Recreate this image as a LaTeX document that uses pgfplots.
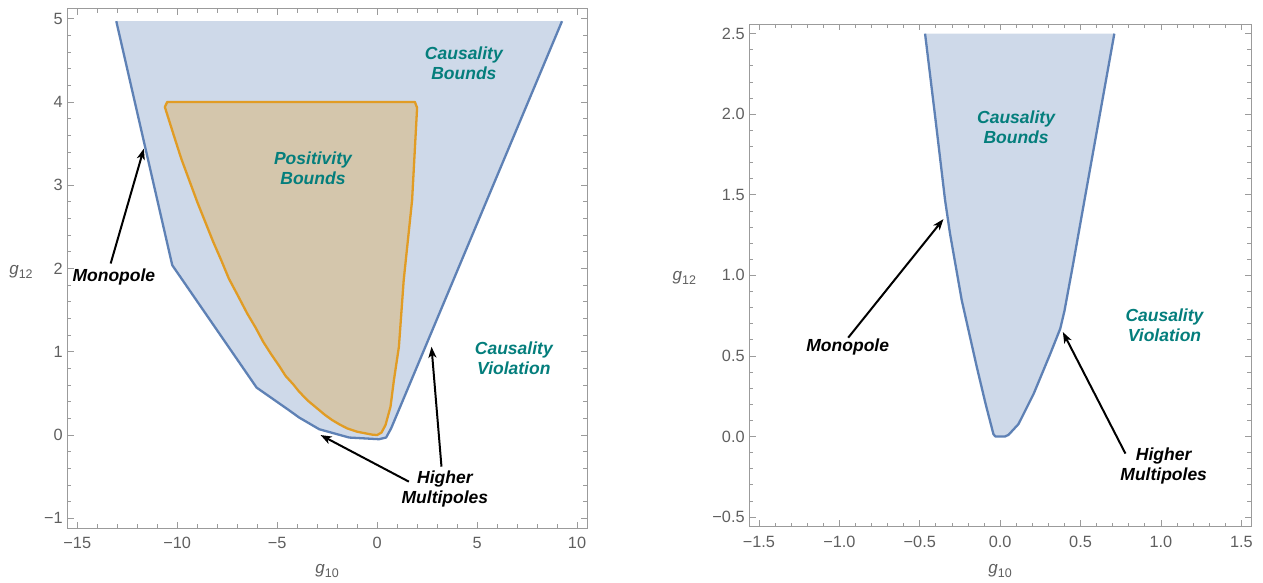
\documentclass[border=0pt]{standalone}
\usepackage{fontspec}
\setmainfont{Liberation Sans}
\usepackage{pgfplots}
\usepackage{pgfplotstable}
\pgfplotsset{compat=1.18}
\usetikzlibrary{arrows.meta}

\definecolor{mblue}{RGB}{94,129,181}
\definecolor{mbluefill}{RGB}{206,217,233}
\definecolor{morange}{RGB}{225,156,36}
\definecolor{morangefill}{RGB}{212,198,172}
\definecolor{mteal}{RGB}{4,126,124}
\definecolor{framegray}{RGB}{155,155,155}
\definecolor{ticklab}{RGB}{95,95,95}

\newcommand{\ticklabelfont}{\fontsize{16.3}{16.3}\selectfont}
\newcommand{\notefont}{\fontsize{17.5}{20}\selectfont\bfseries\itshape}
\newcommand{\axlabel}[1]{{\fontsize{17}{17}\selectfont\color{ticklab}\itshape g\/\raisebox{-4pt}{\upshape\fontsize{12.5}{12.5}\selectfont #1}}}

% causality region, left panel (open boundary: the top edge is the plot range)
\pgfplotstableread{
x y
-13.05 4.97
-10.25 2.04
-6.03 0.57
-4.42 0.30
-3.90 0.21
-2.90 0.07
-1.40 -0.03
0.09 -0.05
0.45 -0.03
0.70 0.08
9.25 4.97
}\causalL

% positivity region, left panel (closed boundary)
\pgfplotstableread{
x y
-10.50 4.00
1.89 4.00
2.00 3.93
1.75 2.82
1.33 1.86
1.09 1.06
0.84 0.66
0.67 0.34
0.42 0.12
0.22 0.03
0.00 0.00
-0.25 0.005
-0.58 0.02
-1.00 0.04
-1.50 0.08
-1.90 0.13
-2.25 0.18
-2.60 0.24
-3.00 0.32
-3.45 0.41
-3.90 0.52
-4.20 0.61
-4.58 0.71
-4.90 0.83
-5.30 0.97
-5.70 1.12
-6.08 1.29
-6.50 1.46
-7.00 1.69
-7.42 1.88
-7.80 2.10
-8.20 2.32
-8.60 2.56
-9.00 2.80
-9.40 3.06
-9.80 3.32
-10.20 3.62
-10.62 3.94
}\posL

% causality region, right panel
\pgfplotstableread{
x y
-0.467 2.50
-0.400 1.95
-0.343 1.47
-0.312 1.26
-0.239 0.846
-0.145 0.43
-0.090 0.20
-0.042 0.015
-0.030 0.00
0.030 0.00
0.052 0.01
0.114 0.077
0.208 0.264
0.312 0.514
0.374 0.67
0.400 0.78
0.450 1.05
0.525 1.47
0.710 2.50
}\causalR

\pgfplotsset{
  mframe/.style={
    scale only axis, clip=false,
    axis line style={draw=framegray, line width=0.9pt},
    tick align=inside,
    tick style={draw=framegray, line width=0.8pt},
    major tick length=6.5pt, minor tick length=4pt,
    minor x tick num=4, minor y tick num=4,
    xticklabel style={font=\ticklabelfont, text=ticklab, anchor=center, inner sep=0pt, yshift=-15pt},
    yticklabel style={font=\ticklabelfont, text=ticklab, anchor=east, inner sep=0pt, xshift=-4.5pt},
  },
}
\tikzset{
  note/.style={font=\notefont, align=center, inner sep=0pt},
  arr/.style={-{Stealth[length=11pt,width=8pt,inset=3pt]}, line width=2pt, black},
}

\begin{document}
\begin{tikzpicture}
\path[use as bounding box] (0pt,0pt) rectangle (1263pt,582pt);

% left panel
\begin{axis}[mframe,
  at={(67.3pt,53.7pt)}, anchor=south west,
  width=519.7pt, height=519.6pt,
  xmin=-15.5, xmax=10.5, ymin=-1.12, ymax=5.12,
  xtick={-15,-10,-5,0,5,10},
  xticklabels={−15,−10,−5,0,5,10},
  ytick={-1,0,1,2,3,4,5},
  yticklabels={−1,0,1,2,3,4,5},
]
\addplot[fill=mbluefill, draw=none] table {\causalL} -- cycle;
\addplot[mblue, line width=2.3pt, line join=round] table {\causalL};
\addplot[fill=morangefill, draw=morange, line width=2.3pt, line join=round] table {\posL} -- cycle;

\node[note, text=mteal] at (axis cs:4.34,4.46) {Causality\\Bounds};
\node[note, text=mteal] at (axis cs:-3.21,3.20) {Positivity\\Bounds};
\node[note, text=mteal] at (axis cs:6.84,0.92) {Causality\\Violation};
\node[note] at (axis cs:-13.17,1.90) {Monopole};
\node[note] at (axis cs:3.39,-0.65) {Higher\\Multipoles};

\draw[arr] (axis cs:-13.33,2.06) -- (axis cs:-11.67,3.44);
\draw[arr] (axis cs:1.59,-0.56) -- (axis cs:-2.83,0.00);
\draw[arr] (axis cs:3.22,-0.38) -- (axis cs:2.72,1.06);

\node[anchor=center] at (rel axis cs:0.5,0) [yshift=-42.7pt] {\axlabel{10}};
\node[anchor=center] at (rel axis cs:0,0.493) [xshift=-46.3pt] {\axlabel{12}};
\end{axis}

% right panel
\begin{axis}[mframe,
  at={(749.3pt,55.3pt)}, anchor=south west,
  width=501.7pt, height=502.7pt,
  xmin=-1.56, xmax=1.56, ymin=-0.56, ymax=2.56,
  xtick={-1.5,-1,-0.5,0,0.5,1,1.5},
  xticklabels={−1.5,−1.0,−0.5,0.0,0.5,1.0,1.5},
  ytick={-0.5,0,0.5,1,1.5,2,2.5},
  yticklabels={−0.5,0.0,0.5,1.0,1.5,2.0,2.5},
]
\addplot[fill=mbluefill, draw=none] table {\causalR} -- cycle;
\addplot[mblue, line width=2.3pt, line join=round] table {\causalR};

\node[note, text=mteal] at (axis cs:0.099,1.92) {Causality\\Bounds};
\node[note, text=mteal] at (axis cs:1.022,0.69) {Causality\\Violation};
\node[note] at (axis cs:-0.948,0.555) {Monopole};
\node[note] at (axis cs:1.017,-0.18) {Higher\\Multipoles};

\draw[arr] (axis cs:-0.945,0.613) -- (axis cs:-0.353,1.349);
\draw[arr] (axis cs:0.779,-0.106) -- (axis cs:0.39,0.648);

\node[anchor=center] at (rel axis cs:0.5,0) [yshift=-44.3pt] {\axlabel{10}};
\node[anchor=center] at (rel axis cs:0,0.495) [xshift=-65pt] {\axlabel{12}};
\end{axis}
\end{tikzpicture}
\end{document}
